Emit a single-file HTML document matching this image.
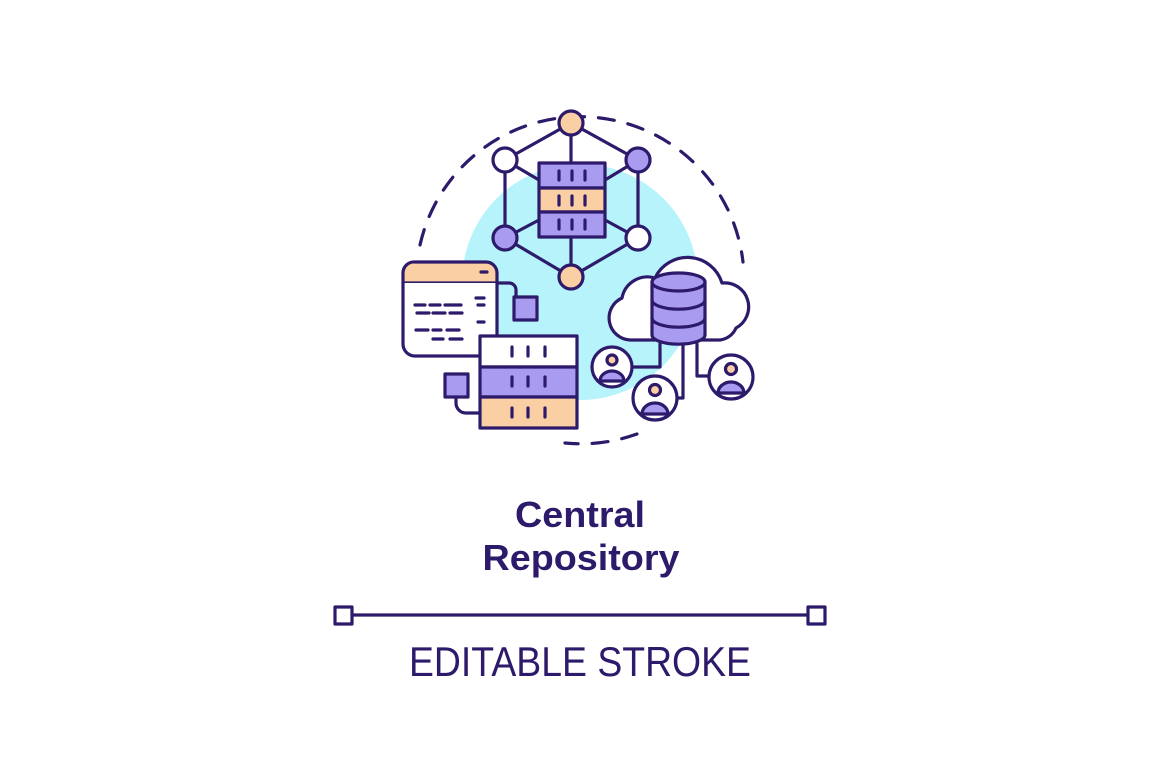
<!DOCTYPE html>
<html><head><meta charset="utf-8"><style>
html,body{margin:0;padding:0;background:#fff;width:1160px;height:772px;overflow:hidden}
</style></head><body>
<svg width="1160" height="772" viewBox="0 0 1160 772" xmlns="http://www.w3.org/2000/svg">
<g fill="none" stroke="#2d1a6b" stroke-width="3.2" stroke-linecap="round" stroke-linejoin="round">
<circle cx="580" cy="282" r="118" fill="#b6f3fa" stroke="none"/>
<path d="M420 245 A164 164 0 0 1 743 262" stroke-dasharray="16 14"/>
<path d="M637 434 A164 164 0 0 1 565 443" stroke-dasharray="16 14"/>
<path d="M571 123 L505 160 L505 238 L571 277 L638 238 L638 160 Z"/>
<path d="M571 123 V163 M571 237 V277 M505 160 L539 180 M638 160 L605 180 M505 238 L539 220 M638 238 L605 220"/>
<circle cx="571" cy="123" r="12" fill="#fbcfa4"/>
<circle cx="571" cy="277" r="12" fill="#fbcfa4"/>
<circle cx="505" cy="160" r="12" fill="#fff"/>
<circle cx="638" cy="238" r="12" fill="#fff"/>
<circle cx="638" cy="160" r="12" fill="#a99cf0"/>
<circle cx="505" cy="238" r="12" fill="#a99cf0"/>
<rect x="539" y="163" width="66" height="25" fill="#a99cf0"/>
<rect x="539" y="188" width="66" height="24" fill="#fbcfa4"/>
<rect x="539" y="212" width="66" height="25" fill="#a99cf0"/>
<path d="M559 171v9M572 171v9M585 171v9M559 196v9M572 196v9M585 196v9M559 220v9M572 220v9M585 220v9"/>
<path d="M415 262 H486 A11 11 0 0 1 497 273 V283 H403 V273 A11 11 0 0 1 415 262 Z" fill="#fbcfa4"/>
<path d="M403 283 V344 A12 12 0 0 0 415 356 H486 A11 11 0 0 0 497 344 V283" fill="#fff"/>
<path d="M481 272h6M476 298h8M415 305h10M430 305h10M445 305h16M478 305h6M417 313h12M433 313h12M450 313h12M478 322h6M416 330h12M433 330h8M447 330h12M433 339h10M450 339h12"/>
<path d="M497 283 h12 a7 7 0 0 1 7 7 v7"/>
<rect x="514" y="297" width="23" height="23" fill="#a99cf0"/>
<rect x="480" y="336" width="97" height="31" fill="#fff"/>
<rect x="480" y="367" width="97" height="30" fill="#a99cf0"/>
<rect x="480" y="397" width="97" height="31" fill="#fbcfa4"/>
<path d="M512 347v9M528 347v9M545 347v9M512 377v9M528 377v9M545 377v9M512 408v9M528 408v9M545 408v9"/>
<rect x="445" y="374" width="23" height="23" fill="#a99cf0"/>
<path d="M456 397 v6 a10 10 0 0 0 10 10 h14"/>
<path d="M630 340 A22 22 0 0 1 622 298 A26 26 0 0 1 655 278 A36 36 0 0 1 722 283 A24 24 0 0 1 736 328 A20 20 0 0 1 720 340 Z" fill="#fff"/>
<path d="M652 282 V335 A26 9 0 0 0 705 335 V282" fill="#a99cf0"/>
<ellipse cx="678.5" cy="282" rx="26.5" ry="9" fill="#a99cf0"/>
<path d="M652 300 A26 9 0 0 0 705 300 M652 318 A26 9 0 0 0 705 318"/>
<path d="M632 367 H660 V344 M683 344 V398 H677 M697 344 V376 H709"/>
<circle cx="612" cy="367" r="20" fill="#fff"/>
<circle cx="612" cy="360" r="5" fill="#fbcfa4"/>
<path d="M600 381 a12 10 0 0 1 24 0 Z" fill="#a99cf0"/>
<circle cx="655" cy="398" r="22" fill="#fff"/>
<circle cx="655" cy="390" r="5.5" fill="#fbcfa4"/>
<path d="M642 414 a13 11 0 0 1 26 0 Z" fill="#a99cf0"/>
<circle cx="731" cy="377" r="22" fill="#fff"/>
<circle cx="731" cy="369" r="5.5" fill="#fbcfa4"/>
<path d="M718 393 a13 11 0 0 1 26 0 Z" fill="#a99cf0"/>
<path d="M352 615 H808"/>
<rect x="335" y="607" width="17" height="17"/>
<rect x="808" y="607" width="17" height="17"/>
</g>
<g fill="#2d1a6b" font-family="'Liberation Sans',sans-serif" text-anchor="middle">
<text x="580" y="527" font-size="36" font-weight="bold" textLength="130" lengthAdjust="spacingAndGlyphs">Central</text>
<text x="581" y="570" font-size="36" font-weight="bold" textLength="197" lengthAdjust="spacingAndGlyphs">Repository</text>
<text x="580" y="676" font-size="42" textLength="342" lengthAdjust="spacingAndGlyphs">EDITABLE STROKE</text>
</g>
</svg>
</body></html>
